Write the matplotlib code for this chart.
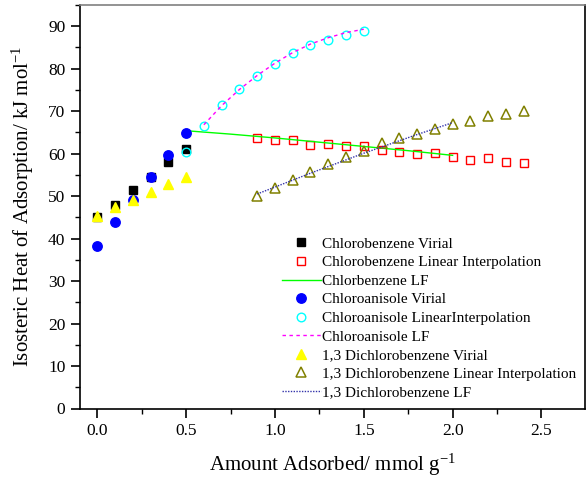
import matplotlib
matplotlib.use("Agg")
import matplotlib.pyplot as plt
from matplotlib.ticker import MultipleLocator

plt.rcParams['font.family'] = ['Liberation Serif', 'DejaVu Serif']
plt.rcParams['mathtext.fontset'] = 'stix'

# ---- data ----
x_virial = [0.0, 0.1, 0.2, 0.3, 0.4, 0.5]
cb_virial = [45.0, 48.0, 51.5, 54.6, 58.0, 61.2]
ca_virial = [38.2, 44.0, 49.2, 54.4, 59.6, 64.9]
dcb_virial = [45.4, 47.5, 49.1, 51.0, 52.9, 54.6]

cb_li_x = [0.9, 1.0, 1.1, 1.2, 1.3, 1.4, 1.5, 1.6, 1.7, 1.8, 1.9, 2.0, 2.1, 2.2, 2.3, 2.4]
cb_li_y = [63.8, 63.1, 63.2, 62.1, 62.2, 61.8, 61.7, 60.8, 60.4, 60.0, 60.2, 59.2, 58.6, 58.9, 58.0, 57.8]

cb_lf_x = [0.5, 0.75, 1.0, 1.25, 1.5, 1.75, 2.0]
cb_lf_y = [65.4, 64.6, 63.7, 62.7, 61.7, 60.7, 59.6]

ca_li_x = [0.5, 0.6, 0.7, 0.8, 0.9, 1.0, 1.1, 1.2, 1.3, 1.4, 1.5]
ca_li_y = [60.5, 66.4, 71.4, 75.3, 78.3, 81.0, 83.6, 85.7, 86.7, 87.9, 88.9]

ca_lf_x = [0.6, 0.7, 0.8, 0.9, 1.0, 1.1, 1.2, 1.3, 1.4, 1.5]
ca_lf_y = [66.8, 71.3, 75.1, 78.4, 81.3, 83.8, 85.8, 87.3, 88.5, 89.3]

dcb_li_x = [0.9, 1.0, 1.1, 1.2, 1.3, 1.4, 1.5, 1.6, 1.7, 1.8, 1.9, 2.0, 2.1, 2.2, 2.3, 2.4]
dcb_li_y = [50.1, 52.0, 53.9, 55.7, 57.6, 59.1, 60.7, 62.4, 63.6, 64.6, 65.7, 67.1, 67.8, 68.8, 69.4, 70.0]

dcb_lf_x = [0.9, 1.2, 1.5, 1.8, 2.0]
dcb_lf_y = [50.5, 55.4, 60.1, 64.5, 67.3]

labels = [
    "Chlorobenzene Virial",
    "Chlorobenzene Linear Interpolation",
    "Chlorbenzene LF",
    "Chloroanisole Virial",
    "Chloroanisole LinearInterpolation",
    "Chloroanisole LF",
    "1,3 Dichlorobenzene Virial",
    "1,3 Dichlorobenzene Linear Interpolation",
    "1,3 Dichlorobenzene LF",
]

fig = plt.figure(figsize=(5.87, 4.80), dpi=100)
ax = fig.add_axes([80/587, 1 - 408.5/480, 505/587, 403.5/480])

ax.plot(x_virial, cb_virial, ls='none', marker='s', ms=5.6, color='black', label=labels[0])
ax.plot(cb_li_x, cb_li_y, ls='none', marker='s', ms=6.0, mfc='none', mec='#FF0000', mew=1.0, label=labels[1])
ax.plot(cb_lf_x, cb_lf_y, ls='-', color='#00FF00', lw=1.0, label=labels[2])
ax.plot(x_virial, ca_virial, ls='none', marker='o', ms=6.8, color='#0000FF', label=labels[3])
ax.plot(ca_li_x, ca_li_y, ls='none', marker='o', ms=6.2, mfc='none', mec='#00FFFF', mew=1.0, label=labels[4])
ax.plot(ca_lf_x, ca_lf_y, ls=(0, (2.5, 2.5)), color='#FF00FF', lw=1.0, label=labels[5])
ax.plot(x_virial, dcb_virial, ls='none', marker='^', ms=7.5, color='#FFFF00', label=labels[6])
ax.plot(dcb_li_x, dcb_li_y, ls='none', marker='^', ms=7.5, mfc='none', mec='#808000', mew=1.1, label=labels[7])
ax.plot(dcb_lf_x, dcb_lf_y, ls=(0, (1, 1)), color='#3333AA', lw=1.0, label=labels[8])

ax.set_xticks([0.0, 0.5, 1.0, 1.5, 2.0, 2.5])
ax.set_xticklabels(["0.0", "0.5", "1.0", "1.5", "2.0", "2.5"])
ax.xaxis.set_minor_locator(MultipleLocator(0.25))
ax.yaxis.set_major_locator(MultipleLocator(10))
ax.yaxis.set_minor_locator(MultipleLocator(5))
ax.set_xlim(-0.097, 2.745)
ax.set_ylim(0, 95)

ax.tick_params(which='major', direction='out', length=6.5, width=1.2, labelsize=12.5, pad=4, top=False, right=False)
ax.tick_params(which='minor', direction='out', length=3.5, width=1.0, top=False, right=False)

for s in ['left', 'bottom', 'right']:
    ax.spines[s].set_color('black')
    ax.spines[s].set_linewidth(1.2)
ax.spines['top'].set_color('#808080')
ax.spines['top'].set_linewidth(1.2)

ax.set_xlabel("Amount Adsorbed/ mmol g$^{\\mathregular{-1}}$", fontsize=15, labelpad=9)
ax.set_ylabel("Isosteric Heat of Adsorption/ kJ mol$^{\\mathregular{-1}}$", fontsize=15, labelpad=9)

leg = ax.legend(loc='upper left', bbox_to_anchor=(0.40, 0.425), frameon=False,
                fontsize=11, handlelength=2.55, handletextpad=0.1,
                labelspacing=0.32, borderpad=0, borderaxespad=0, numpoints=1)

fig.savefig("out.png", dpi=100)
